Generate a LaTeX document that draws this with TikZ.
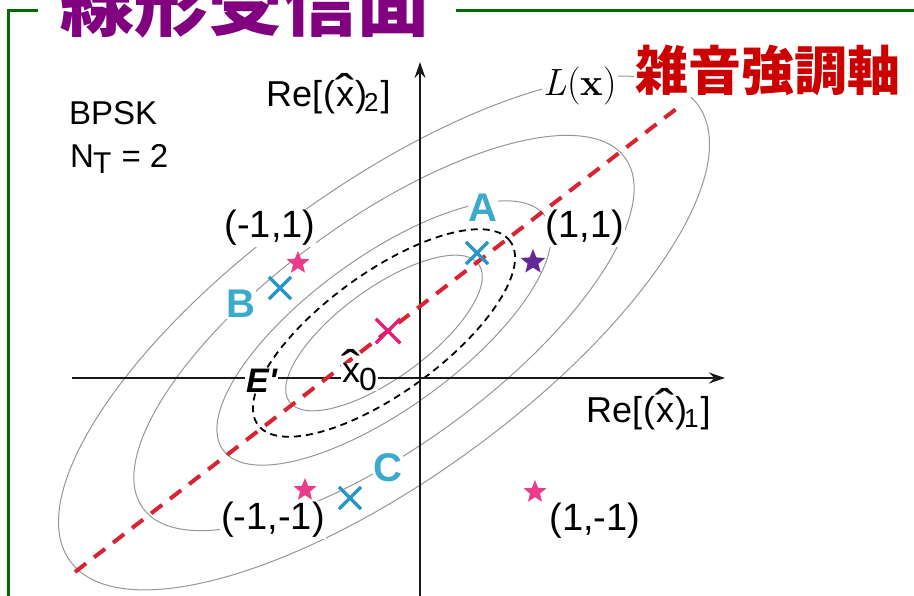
\documentclass[tikz,border=0pt]{standalone}
\usepackage{fontspec}
\usepackage{graphicx}
\newfontfamily\arial{Liberation Sans}
\newfontfamily\cjk{Noto Sans CJK JP}
\usetikzlibrary{shapes.geometric,shapes.misc,arrows.meta}
\definecolor{framegreen}{RGB}{0,105,0}
\definecolor{titlepurple}{RGB}{128,0,128}
\definecolor{noisered}{RGB}{204,0,0}
\definecolor{redline}{RGB}{215,35,50}
\definecolor{cyanlbl}{RGB}{60,170,205}
\definecolor{cyanx}{RGB}{40,150,200}
\definecolor{magx}{RGB}{225,30,120}
\definecolor{pinkstar}{RGB}{235,60,140}
\definecolor{purplestar}{RGB}{100,40,150}
\definecolor{ellgray}{RGB}{150,150,150}
\newcommand{\xh}{\ooalign{x\cr\hidewidth\raisebox{-0.02em}{\scalebox{1.6}[1.3]{ˆ}}\hidewidth\cr}}
\begin{document}
\begin{tikzpicture}[x=1pt,y=1pt,
  frameline/.style={draw=framegreen, line width=3pt},
  ell/.style={draw=ellgray, line width=1pt},
  dell/.style={draw=black, line width=1.8pt, dash pattern=on 7pt off 5pt},
  redaxis/.style={draw=redline, line width=4pt, dash pattern=on 14pt off 10pt},
  axis/.style={draw=black!90, line width=2pt, -{Stealth[length=16pt,width=11pt]}},
  coordlbl/.style={font=\arial\fontsize{38}{38}\selectfont, fill=white, inner sep=1pt},
  txt/.style={font=\arial\fontsize{33}{33}\selectfont, inner sep=0pt},
  abc/.style={font=\arial\bfseries\fontsize{40}{40}\selectfont, text=cyanlbl, fill=white, inner sep=1pt},
  cyancross/.style={cross out, draw=cyanx, line width=3.2pt, minimum size=19pt, inner sep=0pt},
  magcross/.style={cross out, draw=magx, line width=3.5pt, minimum size=21pt, inner sep=0pt},
  starmark/.style={star, star points=5, star point ratio=2.3, minimum size=24pt, inner sep=0pt, draw=none}
]
\useasboundingbox (0,0) rectangle (914,-596);
\clip (0,0) rectangle (914,-596);
% frame
\coordinate (f1) at (8.5,-700);
\coordinate (f2) at (8.5,-10.5);
\coordinate (f3) at (38,-10.5);
\coordinate (f4) at (456,-10.5);
\coordinate (f5) at (920,-10.5);
\draw[frameline] (f1) -- (f2) -- (f3);
\draw[frameline] (f4) -- (f5);
% ellipses
\coordinate (O) at (384,-333);
\draw[ell, rotate around={36:(O)}] (O) ellipse [x radius=388, y radius=146];
\draw[ell, rotate around={36:(O)}] (O) ellipse [x radius=298, y radius=113];
\draw[ell, rotate around={36:(O)}] (O) ellipse [x radius=199, y radius=76];
\draw[ell, rotate around={36:(O)}] (O) ellipse [x radius=117, y radius=45];
\draw[dell, rotate around={36:(O)}] (O) ellipse [x radius=156, y radius=60];
% axes
\coordinate (vb) at (420,-600);
\coordinate (vt) at (420,-62);
\coordinate (hl) at (72,-378);
\coordinate (hr) at (725,-378);
\draw[axis] (vb) -- (vt);
\draw[axis] (hl) -- (hr);
% noise axis
\coordinate (r1) at (75,-572);
\coordinate (r2) at (680,-106);
\draw[redaxis] (r1) -- (r2);
% labels
\node[anchor=base west, inner sep=0pt, text=titlepurple] (title) at (60,-31) {\cjk\bfseries\fontsize{74}{74}\selectfont 線形受信面};
\node[anchor=base west, inner sep=1pt, fill=white, text=noisered] (noise) at (634,-91) {\cjk\bfseries\fontsize{53}{53}\selectfont 雑音強調軸};
\node[fill=white, inner sep=1pt] (Lx) at (580,-86) {\fontsize{38}{38}\selectfont \textit{L}\kern1pt(\textbf{x})};
\node[txt, anchor=base west] (bpsk) at (69,-125) {BPSK};
\node[txt, anchor=base west] (nt) at (70,-168) {N\kern-1pt\raisebox{-6pt}{\fontsize{30}{30}\selectfont T}\kern1pt{} = 2};
\node[txt, anchor=base west, font=\arial\fontsize{36}{36}\selectfont] (re2) at (266,-107) {Re[\kern1pt(\kern1pt\xh\kern1pt)\kern-3pt\raisebox{-5pt}{\fontsize{26}{26}\selectfont 2}\kern2pt]};
\node[txt, anchor=base west, font=\arial\fontsize{36}{36}\selectfont] (re1) at (586,-422) {Re[\kern1pt(\kern1pt\xh\kern1pt)\kern-3pt\raisebox{-5pt}{\fontsize{26}{26}\selectfont 1}\kern2pt]};
\node[coordlbl] (m11) at (270,-228) {(-1,1)};
\node[coordlbl] (p11) at (585,-228) {(1,1)};
\node[coordlbl] (m1m1) at (273,-520) {(-1,-1)};
\node[coordlbl] (p1m1) at (595,-521) {(1,-1)};
\node[abc] (A) at (483,-208) {A};
\node[abc] (B) at (241,-304) {B};
\node[abc] (C) at (388,-468) {C};
\node[anchor=base west, inner sep=1pt, fill=white, font=\arial\fontsize{36}{36}\selectfont] (x0) at (341,-383) {\xh\kern-1pt\raisebox{-7pt}{\fontsize{32}{32}\selectfont 0}};
\node[anchor=base west, inner sep=1pt, fill=white, font=\arial\bfseries\itshape\fontsize{34}{34}\selectfont] (Ep) at (245,-392) {E'};
% markers
\node[cyancross] (xA) at (477,-253) {};
\node[cyancross] (xB) at (280,-288) {};
\node[cyancross] (xC) at (350,-498) {};
\node[magcross] (xO) at (388,-331) {};
\node[starmark, fill=pinkstar] (s1) at (298,-263) {};
\node[starmark, fill=pinkstar] (s2) at (305,-490) {};
\node[starmark, fill=pinkstar] (s3) at (535,-492) {};
\node[starmark, fill=purplestar, minimum size=26pt] (s4) at (533,-262) {};
\end{tikzpicture}
\end{document}
